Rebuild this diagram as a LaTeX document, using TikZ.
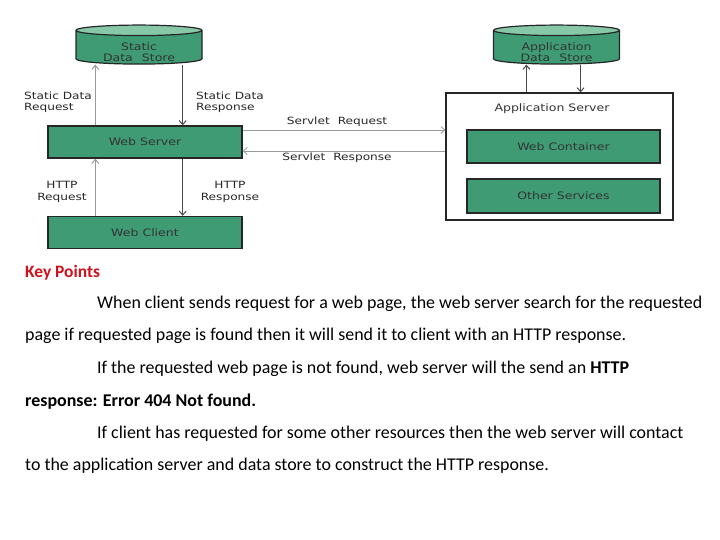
\documentclass[tikz,border=0pt]{standalone}
\usepackage{fontspec}
\setmainfont{Carlito}
\newfontfamily\diagfont[FakeStretch=1.22]{DejaVu Sans}
\usetikzlibrary{arrows.meta, positioning, shapes.geometric}
\definecolor{boxgreen}{HTML}{3F9B74}
\definecolor{topgreen}{HTML}{86C8A8}
\definecolor{keyred}{HTML}{D0101A}
\definecolor{lightline}{HTML}{9A9A9A}
\definecolor{darkline}{HTML}{4A4A4A}

\begin{document}
\begin{tikzpicture}[
	x=1bp, y=-1bp,
	>={Straight Barb[length=4bp, width=7bp]},
	greenbox/.style={
		draw=black!85, line width=1.4bp, fill=boxgreen,
		minimum width=194bp, minimum height=32bp, inner sep=0pt,
		font=\diagfont\fontsize{10.3}{12}\selectfont, text=black!80
	},
	store/.style={
		cylinder, shape border rotate=90, aspect=0.14,
		draw=black!85, line width=1.2bp,
		cylinder uses custom fill, cylinder body fill=boxgreen, cylinder end fill=topgreen,
		minimum width=126bp, minimum height=39bp, inner sep=0pt
	},
	storetext/.style={align=center, inner sep=0pt, font=\diagfont\fontsize{10.3}{11}\selectfont, text=black!80},
	upline/.style={->, lightline, line width=1bp},
	downline/.style={->, darkline, line width=1bp},
	sline/.style={->, lightline, line width=0.8bp},
	lbl/.style={font=\diagfont\fontsize{10}{11.5}\selectfont, text=black!85, align=left, inner sep=0pt},
	para/.style={font=\fontsize{18}{21}\selectfont, anchor=base west, inner sep=0pt}
	]
	\useasboundingbox (0,0) rectangle (720,540);
	
	% Data stores
	\node[store] (sds) at (139,47.5) {\phantom{\rule{75bp}{20bp}}};
	\node[storetext] (sdstext) at ([yshift=-5bp]sds.center) {Static\\Data\hspace{9bp}Store};
	\node[store] (ads) at (556.5,47.5) {\phantom{\rule{75bp}{20bp}}};
	\node[storetext] (adstext) at ([yshift=-5bp]ads.center) {Application\\Data\hspace{9bp}Store};
	
	% Web tier
	\node[greenbox] (ws) at (145,142) {Web Server};
	\node[greenbox] (wc) at (145,232.5) {Web Client};
	
	% Application server
	\node[draw=black!85, line width=1.2bp, fill=white, minimum width=227bp, minimum height=127bp] (as) at (559.5,156.5) {};
	\node[font=\diagfont\fontsize{10.3}{12}\selectfont, text=black!80] (astitle) at (552,109) {Application Server};
	\node[greenbox, minimum width=193bp, minimum height=33bp] (wcont) at (563.5,146.5) {Web Container};
	\node[greenbox, minimum width=193bp, minimum height=34bp] (oserv) at (563.5,196) {Other Services};
	
	% Web server <-> static data store
	\draw[upline] ([xshift=48bp]ws.north west) -- ([xshift=48bp]ws.north west |- sds.south);
	\draw[downline] ([xshift=-60bp]ws.north east |- sds.south) -- ([xshift=-60bp]ws.north east);
	\node[lbl, anchor=west] (sdreq) at (24,102.5) {Static Data\\Request};
	\node[lbl, anchor=west] (sdres) at (196,102.5) {Static Data\\Response};
	
	% Web client <-> web server
	\draw[upline] ([xshift=48bp]wc.north west) -- ([xshift=48bp]ws.south west);
	\draw[downline] ([xshift=-60bp]ws.south east) -- ([xshift=-60bp]wc.north east);
	\node[lbl, align=center] (hreq) at (62,192) {HTTP\\Request};
	\node[lbl, align=center] (hres) at (230,192) {HTTP\\Response};
	
	% Web server <-> application server
	\draw[sline] ([yshift=12bp]ws.east) -- ([yshift=12bp]ws.east -| as.west);
	\draw[sline] ([yshift=-9bp]ws.east -| as.west) -- ([yshift=-9bp]ws.east);
	\node[lbl] (sreq) at (337,122) {Servlet\hspace{8bp}Request};
	\node[lbl] (sres) at (337,158) {Servlet\hspace{8bp}Response};
	
	% Application server <-> application data store
	\draw[upline, darkline] ([xshift=81bp]as.north west) -- ([xshift=81bp]as.north west |- ads.south);
	\draw[downline] ([xshift=-93bp]as.north east |- ads.south) -- ([xshift=-93bp]as.north east);
	
	% Key points
	\node[para, font=\fontsize{17.5}{20}\bfseries\selectfont, text=keyred] (kp) at (25,278) {Key Points};
	\node[para] (p1a) at (97,308) {When client sends request for a web page, the web server search for the requested};
	\node[para] (p1b) at (25,340) {page if requested page is found then it will send it to client with an HTTP response.};
	\node[para] (p2a) at (97,373) {If the requested web page is not found, web server will the send an \textbf{HTTP}};
	\node[para] (p2b) at (25,406) {\textbf{response: Error 404 Not found.}};
	\node[para] (p3a) at (97,438) {If client has requested for some other resources then the web server will contact};
	\node[para] (p3b) at (25,470) {to the application server and data store to construct the HTTP response.};
\end{tikzpicture}
\end{document}
